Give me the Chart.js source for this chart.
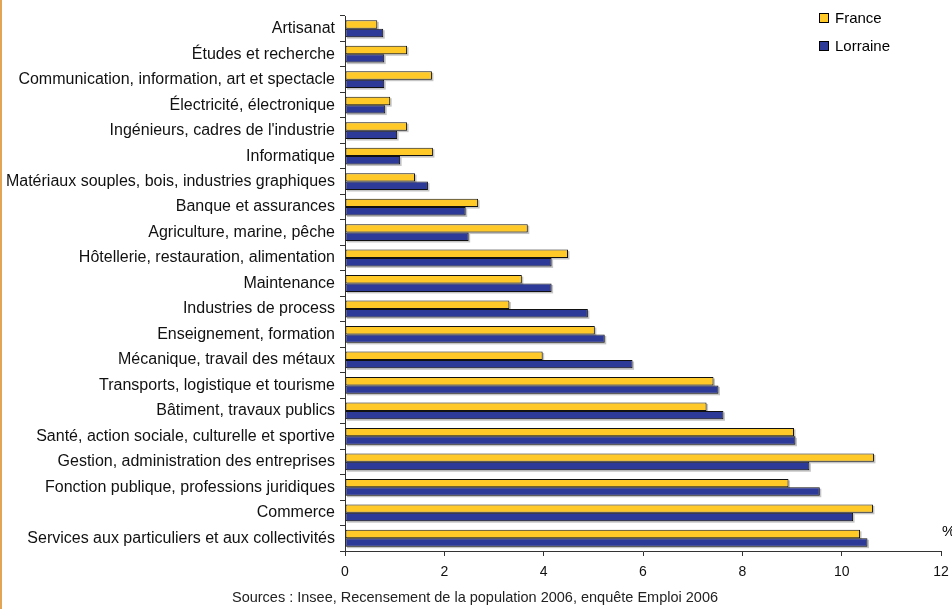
<!DOCTYPE html>
<html>
<head>
<meta charset="utf-8">
<script src="https://cdn.jsdelivr.net/npm/chart.js@4/dist/chart.umd.min.js"></script>
<style>
	body { margin: 0; background: #fff; }
	#wrap { position: relative; width: 952px; height: 609px; }
	#edge { position: absolute; left: 0; top: 0; width: 2px; height: 609px; background: #e2a455; }
	canvas { position: absolute; left: 0; top: 0; }
</style>
</head>
<body>
<div id="wrap">
	<canvas id="metiers" width="952" height="609"></canvas>
	<div id="edge"></div>
</div>
<script>
var categories = [
	'Artisanat',
	'Études et recherche',
	'Communication, information, art et spectacle',
	'Électricité, électronique',
	"Ingénieurs, cadres de l'industrie",
	'Informatique',
	'Matériaux souples, bois, industries graphiques',
	'Banque et assurances',
	'Agriculture, marine, pêche',
	'Hôtellerie, restauration, alimentation',
	'Maintenance',
	'Industries de process',
	'Enseignement, formation',
	'Mécanique, travail des métaux',
	'Transports, logistique et tourisme',
	'Bâtiment, travaux publics',
	'Santé, action sociale, culturelle et sportive',
	'Gestion, administration des entreprises',
	'Fonction publique, professions juridiques',
	'Commerce',
	'Services aux particuliers et aux collectivités'
];
var franceValues = [0.65, 1.25, 1.75, 0.91, 1.25, 1.77, 1.41, 2.68, 3.68, 4.49, 3.56, 3.31, 5.03, 3.98, 7.42, 7.28, 9.04, 10.65, 8.93, 10.63, 10.37];
var lorraineValues = [0.77, 0.79, 0.79, 0.81, 1.05, 1.11, 1.67, 2.43, 2.49, 4.16, 4.16, 4.89, 5.23, 5.79, 7.52, 7.62, 9.07, 9.35, 9.56, 10.23, 10.52];
var xTicks = [0, 2, 4, 6, 8, 10, 12];
var sourceText = 'Sources : Insee, Recensement de la population 2006, enquête Emploi 2006';

var FONT = '"Liberation Sans", Arial, sans-serif';

// ombre grise sous chaque barre
var barShadow = {
	id: 'barShadow',
	beforeDatasetsDraw: function(chart) {
		var ctx = chart.ctx;
		ctx.save();
		ctx.fillStyle = 'rgba(140,140,140,0.5)';
		chart.data.datasets.forEach(function(ds, i) {
			chart.getDatasetMeta(i).data.forEach(function(bar) {
				var h = bar.height;
				ctx.fillRect(bar.base + 1.5, bar.y - h / 2 + 1.5, bar.x - bar.base, h);
			});
		});
		ctx.restore();
	}
};

// légende, "%" et source
var extras = {
	id: 'extras',
	afterDraw: function(chart) {
		var ctx = chart.ctx;
		ctx.save();
		ctx.textBaseline = 'middle';
		ctx.textAlign = 'left';
		ctx.font = '15px ' + FONT;
		chart.data.datasets.forEach(function(ds, i) {
			var y = 18 + i * 28;
			ctx.fillStyle = ds.backgroundColor;
			ctx.fillRect(819, y - 5, 10, 10);
			ctx.strokeStyle = '#000';
			ctx.lineWidth = 1;
			ctx.strokeRect(819.5, y - 4.5, 9, 9);
			ctx.fillStyle = '#000';
			ctx.fillText(ds.label, 835, y + 1);
		});
		ctx.fillText('%', 942, 532);
		ctx.textAlign = 'center';
		ctx.fillStyle = '#222';
		ctx.font = '14.5px ' + FONT;
		ctx.fillText(sourceText, 475, 598);
		ctx.restore();
	}
};

var chart_ctx = document.getElementById('metiers').getContext('2d');
var metiers = new Chart(chart_ctx, {
	type: 'bar',
	data: {
		labels: categories,
		datasets: [{
			label: 'France',
			data: franceValues,
			backgroundColor: '#ffc928',
			borderColor: '#111',
			borderWidth: 1,
			borderSkipped: false
		}, {
			label: 'Lorraine',
			data: lorraineValues,
			backgroundColor: '#2e3a97',
			borderColor: '#111',
			borderWidth: 1,
			borderSkipped: false
		}]
	},
	options: {
		indexAxis: 'y',
		responsive: false,
		animation: false,
		categoryPercentage: 0.66,
		barPercentage: 1,
		layout: {
			padding: { top: 16, right: 11, bottom: 0, left: 0 }
		},
		plugins: {
			legend: { display: false },
			tooltip: { enabled: false }
		},
		scales: {
			x: {
				min: 0,
				max: 12,
				afterFit: function(scale) {
					scale.height = 58;
					scale.paddingRight = 0;
					scale.paddingLeft = 0;
				},
				afterBuildTicks: function(scale) {
					scale.ticks = xTicks.map(function(v) { return { value: v }; });
				},
				grid: { drawOnChartArea: false, tickLength: 5, color: '#333' },
				border: { color: '#333' },
				ticks: { color: '#111', font: { family: FONT, size: 14 }, padding: 8 }
			},
			y: {
				afterFit: function(scale) {
					scale.width = 345;
					scale.paddingTop = 0;
					scale.paddingBottom = 0;
				},
				grid: { drawOnChartArea: false, offset: true, tickLength: 5, color: '#333' },
				border: { color: '#333' },
				ticks: { color: '#111', font: { family: FONT, size: 16 }, padding: 5 }
			}
		}
	},
	plugins: [barShadow, extras]
});
</script>
</body>
</html>
